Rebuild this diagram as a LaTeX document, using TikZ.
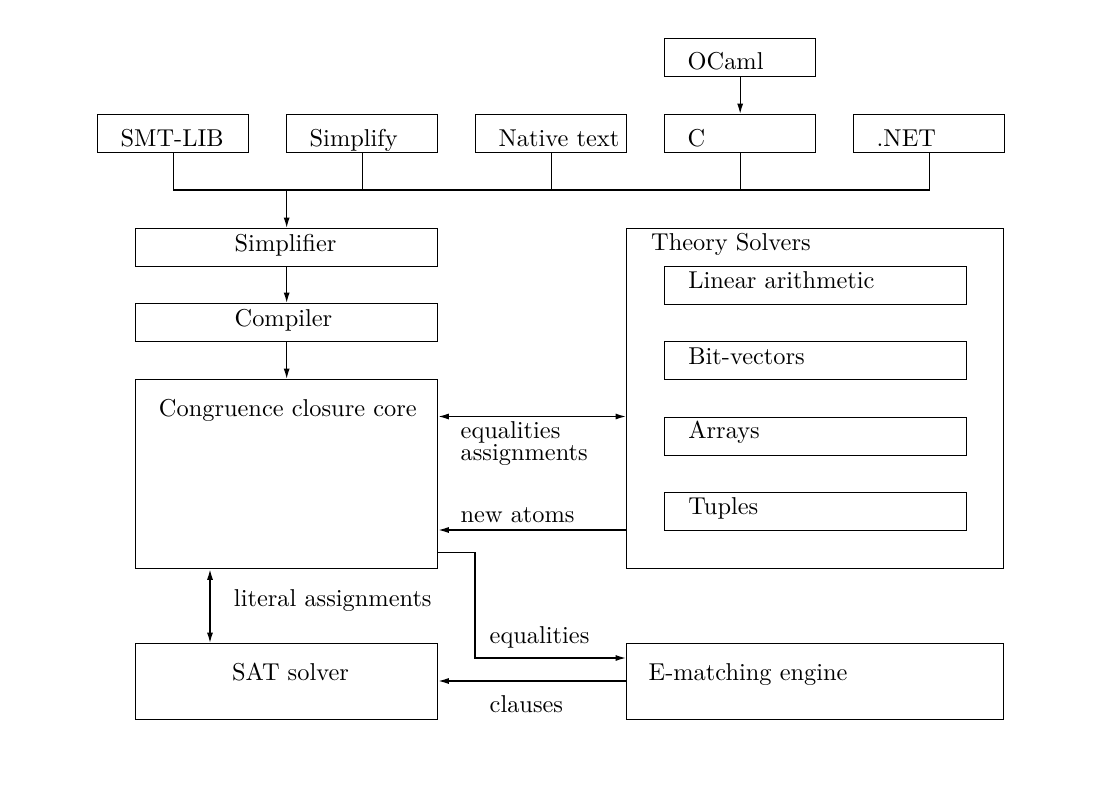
\documentclass[tikz,border=0pt]{standalone}
\usetikzlibrary{arrows.meta}
\begin{document}
\begin{tikzpicture}[x=0.41pt,y=-0.41pt,
  line width=0.55pt,
  box/.style={draw, rectangle, inner sep=0pt, anchor=north west},
  small/.style={box, minimum width=151*0.41pt, minimum height=38*0.41pt},
  wide/.style={box, minimum width=302*0.41pt, minimum height=38*0.41pt},
  txt/.style={anchor=base west, inner sep=0pt},
  tip/.tip={Latex[length=4.3pt,width=2.5pt]},
  arr/.style={-tip},
  darr/.style={tip-tip}]
\useasboundingbox (0,0) rectangle (1119,805);

% input boxes
\node[small] (ocaml) at (664,38) {};
\node[small] (smt) at (97,114) {};
\node[small] (simp) at (286,114) {};
\node[small] (native) at (475,114) {};
\node[small] (c) at (664,114) {};
\node[small] (net) at (853,114) {};

\node[txt] (tocaml) at (687,69.5) {OCaml};
\node[txt] (tsmt) at (120,146) {SMT-LIB};
\node[txt] (tsimp) at (309,146) {Simplify};
\node[txt] (tnative) at (498,146) {Native text};
\node[txt] (tc) at (687,146) {C};
\node[txt] (tnet) at (876,146) {.NET};

% pipeline
\node[wide] (simplifier) at (135,228) {};
\node[wide] (compiler) at (135,303) {};
\node[box, minimum width=302*0.41pt, minimum height=189*0.41pt] (cc) at (135,379) {};
\node[box, minimum width=302*0.41pt, minimum height=76*0.41pt] (sat) at (135,643) {};

\node[txt] (tsimplifier) at (234,251.5) {Simplifier};
\node[txt] (tcompiler) at (234,326.7) {Compiler};
\node[txt] (tcc) at (158.3,416.7) {Congruence closure core};
\node[txt] (tsat) at (231.5,680) {SAT solver};

% theory solvers
\node[box, minimum width=377*0.41pt, minimum height=340*0.41pt] (th) at (626,228) {};
\node[wide] (lin) at (664,265.5) {};
\node[wide] (bv) at (664,341) {};
\node[wide] (arrays) at (664,416.5) {};
\node[wide] (tuples) at (664,492) {};
\node[box, minimum width=377*0.41pt, minimum height=76*0.41pt] (em) at (626,643) {};

\node[txt] (tth) at (650.5,250.7) {Theory Solvers};
\node[txt] (tlin) at (687.7,288.3) {Linear arithmetic};
\node[txt] (tbv) at (687.7,364) {Bit-vectors};
\node[txt] (tarrays) at (687.7,438.5) {Arrays};
\node[txt] (ttuples) at (687.7,514.3) {Tuples};
\node[txt] (tem) at (648,680) {E-matching engine};

% edge labels
\node[txt] (leq1) at (460,438) {equalities};
\node[txt] (lassign) at (460,460.5) {assignments};
\node[txt] (latoms) at (460,522.7) {new atoms};
\node[txt] (llit) at (233.3,606) {literal assignments};
\node[txt] (leq2) at (489,643) {equalities};
\node[txt] (lclauses) at (489,712) {clauses};

% helper coordinates
\coordinate (ybus) at (0,190);
\coordinate (ya) at (0,416.5);
\coordinate (yb) at (0,530);
\coordinate (yc) at (0,552.5);
\coordinate (yd) at (0,658);
\coordinate (ye) at (0,681);
\coordinate (xl) at (210,0);
\coordinate (xm) at (475,0);

% connectors
\draw[arr] (ocaml) -- (c);
\draw (smt.south) |- (net.south |- ybus) -- (net.south);
\draw (simp.south) -- (simp.south |- ybus);
\draw (native.south) -- (native.south |- ybus);
\draw (c.south) -- (c.south |- ybus);
\draw[arr] (simplifier.north |- ybus) -- (simplifier.north);
\draw[arr] (simplifier) -- (compiler);
\draw[arr] (compiler) -- (cc);
\draw[darr] (cc.east |- ya) -- (th.west |- ya);
\draw[arr] (th.west |- yb) -- (cc.east |- yb);
\draw[arr] (cc.east |- yc) -- (xm |- yc) -- (xm |- yd) -- (em.west |- yd);
\draw[arr] (em.west |- ye) -- (sat.east |- ye);
\draw[darr] (cc.south -| xl) -- (sat.north -| xl);
\end{tikzpicture}
\end{document}
